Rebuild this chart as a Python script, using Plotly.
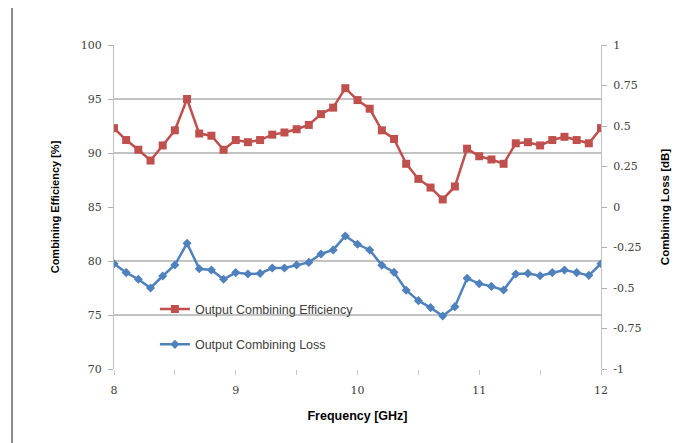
import plotly.graph_objects as go

freq = [round(8.0 + 0.1 * i, 1) for i in range(41)]

efficiency = [92.3, 91.2, 90.3, 89.3, 90.7, 92.1, 95.0, 91.8, 91.6, 90.3,
              91.2, 91.0, 91.2, 91.7, 91.9, 92.2, 92.6, 93.6, 94.2, 96.0,
              94.9, 94.1, 92.1, 91.3, 89.0, 87.6, 86.8, 85.7, 86.9, 90.4,
              89.7, 89.4, 89.0, 90.9, 91.0, 90.7, 91.2, 91.5, 91.2, 90.9,
              92.3]

loss = [-0.35, -0.405, -0.446, -0.50, -0.426, -0.358, -0.224, -0.381, -0.389, -0.446,
        -0.405, -0.414, -0.41, -0.377, -0.377, -0.358, -0.342, -0.29, -0.265, -0.179,
        -0.23, -0.265, -0.36, -0.403, -0.514, -0.578, -0.621, -0.673, -0.615, -0.44,
        -0.473, -0.49, -0.512, -0.414, -0.41, -0.424, -0.405, -0.389, -0.405, -0.422,
        -0.35]

x_tickvals = [8, 8.5, 9, 9.5, 10, 10.5, 11, 11.5, 12]
x_ticktext = ["8", "", "9", "", "10", "", "11", "", "12"]
left_ticks = [70, 75, 80, 85, 90, 95, 100]
right_ticks = [-1, -0.75, -0.5, -0.25, 0, 0.25, 0.5, 0.75, 1]
right_ticktext = ["-1", "-0.75", "-0.5", "-0.25", "0", "0.25", "0.5", "0.75", "1"]
grid_levels = [75, 80, 90, 95]

red = "#C0504D"
blue = "#4F81BD"

fig = go.Figure()
fig.add_trace(go.Scatter(
    x=freq, y=efficiency, name="Output Combining Efficiency",
    mode="lines+markers", legendgroup="a",
    line=dict(color=red, width=2.5),
    marker=dict(symbol="square", size=8, color=red),
))
fig.add_trace(go.Scatter(
    x=freq, y=loss, name="Output Combining Loss", yaxis="y2",
    mode="lines+markers", legendgroup="b",
    line=dict(color=blue, width=2.5),
    marker=dict(symbol="diamond", size=7, color=blue),
))

for g in grid_levels:
    fig.add_shape(type="line", xref="paper", x0=0, x1=1, yref="y", y0=g, y1=g,
                  line=dict(color="#868686", width=1), layer="below")

# outer chart border
fig.add_shape(type="line", xref="paper", yref="paper", x0=-0.2094, x1=-0.2094,
              y0=-0.3, y1=1.1173, line=dict(color="#8c8c8c", width=2))
fig.add_shape(type="line", xref="paper", yref="paper", x0=-0.2094, x1=1.1643,
              y0=1.1173, y1=1.1173, line=dict(color="#a0a0a0", width=1))
fig.add_shape(type="line", xref="paper", yref="paper", x0=1.1643, x1=1.1643,
              y0=-0.3, y1=1.1173, line=dict(color="#d0d0d0", width=1))

tick_font = dict(family="DejaVu Serif", size=11, color="#404040")
title_font = dict(family="Liberation Sans", size=11, color="#000000")

fig.update_layout(
    width=678, height=435,
    margin=dict(l=106, r=85, t=37, b=74, autoexpand=False),
    paper_bgcolor="white", plot_bgcolor="white",
    showlegend=True,
    legend=dict(x=0.084, y=0.23, xanchor="left", yanchor="top",
                bgcolor="rgba(0,0,0,0)", tracegroupgap=16,
                font=dict(family="Liberation Sans", size=12.5, color="#404040")),
    xaxis=dict(range=[8, 12], tickvals=x_tickvals, ticktext=x_ticktext,
               showgrid=False, zeroline=False, showline=False, automargin=False,
               ticks="outside", ticklen=5, tickcolor="#c8c8c8",
               tickfont=tick_font, ticklabelstandoff=6,
               title=dict(text="<b>Frequency [GHz]</b>",
                          font=dict(family="Liberation Sans", size=12.5, color="#000000"),
                          standoff=15)),
    yaxis=dict(range=[70, 100], tickvals=left_ticks, showgrid=False, automargin=False,
               zeroline=False, showline=True, linecolor="#c0c0c0", linewidth=1,
               ticks="outside", ticklen=5, tickcolor="#b0b0b0",
               tickfont=tick_font, ticklabelstandoff=4,
               title=dict(text="<b>Combining Efficiency [%]</b>", font=title_font, standoff=18)),
    yaxis2=dict(range=[-1, 1], tickvals=right_ticks, ticktext=right_ticktext,
                overlaying="y", side="right", showgrid=False, zeroline=False,
                automargin=False,
                showline=True, linecolor="#c0c0c0", linewidth=1,
                ticks="outside", ticklen=5, tickcolor="#b0b0b0",
                tickfont=tick_font, ticklabelstandoff=4,
                title=dict(text="<b>Combining Loss [dB]</b>",
                           font=dict(family="Liberation Sans", size=11.5, color="#000000"),
                           standoff=20)),
)

fig.write_html("out.html")
